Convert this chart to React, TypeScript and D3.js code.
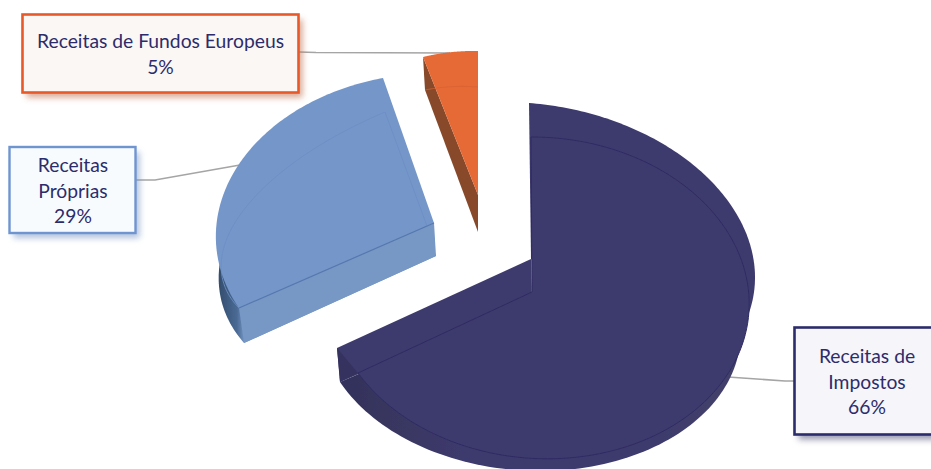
import React from "react";
import * as d3 from "d3";

const categories = ["Receitas de Impostos", "Receitas Próprias", "Receitas de Fundos Europeus"];
const shares = [66, 29, 5];

const W = 931;
const H = 469;
const font = "Lato, 'Open Sans', sans-serif";
const textColor = "#2d2c6b";

type Pt = [number, number];
type Anchor = { deg: number | "start" | "end"; at: Pt };
type Calib = { apex: Pt; anchors: Anchor[]; fromDeg?: number; toDeg?: number };

const arcs = d3.pie<number>().value((d) => d).sort(null)(shares);

// Solves the plane-to-image homography of a tilted pie from 4 correspondences.
function solve(A: number[][], b: number[]): number[] {
  const n = b.length;
  const M = A.map((r, i) => [...r, b[i]]);
  for (let c = 0; c < n; c++) {
    let p = c;
    for (let r = c + 1; r < n; r++) if (Math.abs(M[r][c]) > Math.abs(M[p][c])) p = r;
    [M[c], M[p]] = [M[p], M[c]];
    for (let r = 0; r < n; r++) {
      if (r === c) continue;
      const f = M[r][c] / M[c][c];
      for (let k = c; k <= n; k++) M[r][k] -= f * M[c][k];
    }
  }
  return M.map((r, i) => r[n] / r[i]);
}

function camera(sliceIndex: number, calib: Calib) {
  const s = arcs[sliceIndex];
  const unit = (t: number): Pt => [Math.sin(t), -Math.cos(t)];
  const pairs: [Pt, Pt][] = [[[0, 0], calib.apex]];
  calib.anchors.forEach((a) => {
    const t = a.deg === "start" ? s.startAngle : a.deg === "end" ? s.endAngle : (a.deg * Math.PI) / 180;
    pairs.push([unit(t), a.at]);
  });
  if (pairs.length === 3) {
    const [p0, p1, p2] = pairs;
    pairs.push([
      [p1[0][0] + p2[0][0] - p0[0][0], p1[0][1] + p2[0][1] - p0[0][1]],
      [p1[1][0] + p2[1][0] - p0[1][0], p1[1][1] + p2[1][1] - p0[1][1]],
    ]);
  }
  const A: number[][] = [];
  const b: number[] = [];
  pairs.forEach(([[u, v], [x, y]]) => {
    A.push([u, v, 1, 0, 0, 0, -u * x, -v * x]);
    b.push(x);
    A.push([0, 0, 0, u, v, 1, -u * y, -v * y]);
    b.push(y);
  });
  const h = solve(A, b);
  const project = (t: number): Pt => {
    const [u, v] = unit(t);
    const w = h[6] * u + h[7] * v + 1;
    return [(h[0] * u + h[1] * v + h[2]) / w, (h[3] * u + h[4] * v + h[5]) / w];
  };
  const from = calib.fromDeg !== undefined ? (calib.fromDeg * Math.PI) / 180 : s.startAngle;
  const to = calib.toDeg !== undefined ? (calib.toDeg * Math.PI) / 180 : s.endAngle;
  const rim = d3.range(0, 121).map((i) => project(from + ((to - from) * i) / 120));
  const center: Pt = [h[2], h[5]];
  return { rim, center, start: rim[0], end: rim[rim.length - 1] };
}

const line = d3.line();
const closed = (pts: Pt[]) => line(pts)! + "Z";
const sector = (f: ReturnType<typeof camera>) => closed([f.center, ...f.rim]);
const open = (pts: Pt[]) => line(pts)!;

// dark slice
const d1 = camera(0, { apex: [531, 259], toDeg: 115, anchors: [{ deg: "start", at: [529, 103] }, { deg: 90, at: [755, 276] }] });
const d1c = camera(0, { apex: [531, 259], anchors: [{ deg: "start", at: [529, 103] }, { deg: "end", at: [337, 348] }] });
const d2 = camera(0, { apex: [532, 292], anchors: [{ deg: "start", at: [531, 137] }, { deg: "end", at: [358, 373] }, { deg: 90, at: [749, 297] }] });
const d3f = camera(0, { apex: [532, 300], fromDeg: 60, anchors: [{ deg: 120, at: [730, 378] }, { deg: "end", at: [340, 382] }, { deg: 180, at: [540, 471] }] });

// blue slice
const b1 = camera(1, { apex: [434, 223], anchors: [{ deg: "start", at: [239, 308] }, { deg: "end", at: [383, 78] }, { deg: 295, at: [248, 152] }] });
const b2 = camera(1, { apex: [427, 226], anchors: [{ deg: "start", at: [239, 308] }, { deg: "end", at: [385, 112] }, { deg: 270, at: [222, 256] }] });
const b3 = camera(1, { apex: [436, 256], anchors: [{ deg: "start", at: [244, 343] }, { deg: "end", at: [385, 112] }, { deg: 270, at: [219, 270] }] });

// orange slice
const o1 = camera(2, { apex: [478, 195], anchors: [{ deg: "start", at: [423, 57] }, { deg: "end", at: [478, 51] }] });
const o2 = camera(2, { apex: [478, 232], anchors: [{ deg: "start", at: [425, 90] }, { deg: "end", at: [478, 87] }] });

const boxes = [
  { x: 22.5, y: 14.5, w: 276, h: 78, stroke: "#e8592a", fill: "#fbf7f4", sw: 2.6, lines: [categories[2], `${shares[2]}%`], cx: 160.5, base: [48, 74], shadow: "#b9653f" },
  { x: 9.5, y: 147, w: 126, h: 86, stroke: "#6f95d0", fill: "#f7fbfe", sw: 2.4, lines: ["Receitas", "Próprias", `${shares[1]}%`], cx: 73, base: [172, 197.5, 223], shadow: "#6f8fc0" },
  { x: 794.5, y: 327.5, w: 140, h: 107, stroke: "#2c2c6c", fill: "#f5f5fa", sw: 2.6, lines: ["Receitas de", "Impostos", `${shares[0]}%`], cx: 867, base: [363, 389, 414], shadow: "#444470" },
];

const leaders: Pt[][] = [
  [[299, 52], [316, 52.5], [450, 53]],
  [[136, 180], [155, 180], [240, 165]],
  [[728, 377], [785, 381], [795, 381]],
];

export default function App() {
  return (
    <svg width={W} height={H} viewBox={`0 0 ${W} ${H}`} style={{ position: "fixed", left: 0, top: 0, background: "#fff" }}>
      <defs>
        <linearGradient id="darkWall" gradientUnits="userSpaceOnUse" x1={337} x2={755} y1={0} y2={0}>
          <stop offset="0" stopColor="#30305a" />
          <stop offset="0.12" stopColor="#38365f" />
          <stop offset="0.3" stopColor="#3d3a6d" />
          <stop offset="0.75" stopColor="#3d3a6d" />
          <stop offset="0.94" stopColor="#43416a" />
          <stop offset="1" stopColor="#2f2e58" />
        </linearGradient>
        <linearGradient id="blueWall" gradientUnits="userSpaceOnUse" x1={218} x2={245} y1={0} y2={0}>
          <stop offset="0" stopColor="#324c6c" />
          <stop offset="0.7" stopColor="#4a6a94" />
          <stop offset="1" stopColor="#7595c4" />
        </linearGradient>
        <filter id="soft" x="-20%" y="-20%" width="140%" height="140%">
          <feGaussianBlur stdDeviation="3" />
        </filter>
        <filter id="smooth" x="-5%" y="-5%" width="110%" height="110%">
          <feGaussianBlur stdDeviation="0.45" />
        </filter>
      </defs>

      <g fill="none" stroke="#a5a5a5" strokeWidth={1.6}>
        {leaders.map((l, i) => (
          <path key={i} d={open(l)} />
        ))}
      </g>

      <g filter="url(#smooth)">
        {/* blue */}
        <path d={sector(b3)} fill="url(#blueWall)" />
        <path d={closed([b1.center, b1.start, b3.start, b3.center])} fill="#7797c5" />
        <path d={sector(b1)} fill="#7496c9" />
        <path d={open([...b2.rim, b2.center])} fill="none" stroke="#6d8ec4" strokeWidth={0.9} />
        <path d={open([b1.center, b1.start])} fill="none" stroke="#5578ae" strokeWidth={1.2} />

        {/* orange */}
        <path d={closed([o1.center, o1.start, o2.start, o2.center])} fill="#874a2b" />
        <path d={sector(o1)} fill="#e66a36" />
        <path d={open(o2.rim)} fill="none" stroke="#d76233" strokeWidth={0.8} />

        {/* dark */}
        <path d={sector(d1)} fill="#3e3a6e" />
        <path d={sector(d3f)} fill="url(#darkWall)" />
        <path d={closed([d1c.center, d1c.end, d3f.end, d3f.center])} fill="#3e3a6e" />
        <path d={closed([d2.end, d1c.end, d3f.end])} fill="#35335e" />
        <path d={sector(d2)} fill="#3e3a6e" stroke="#2f2c63" strokeWidth={1} />
      </g>

      {boxes.map((b, i) => (
        <g key={i}>
          <rect x={b.x + 4} y={b.y + 5} width={b.w} height={b.h} fill={b.shadow} opacity={0.55} filter="url(#soft)" />
          <rect x={b.x} y={b.y} width={b.w} height={b.h} fill={b.fill} stroke={b.stroke} strokeWidth={b.sw} />
          {b.lines.map((t, k) => (
            <text key={k} x={b.cx} y={b.base[k]} textAnchor="middle" fontFamily={font} fontSize={19.3} fill={textColor}>
              {t}
            </text>
          ))}
        </g>
      ))}
    </svg>
  );
}
